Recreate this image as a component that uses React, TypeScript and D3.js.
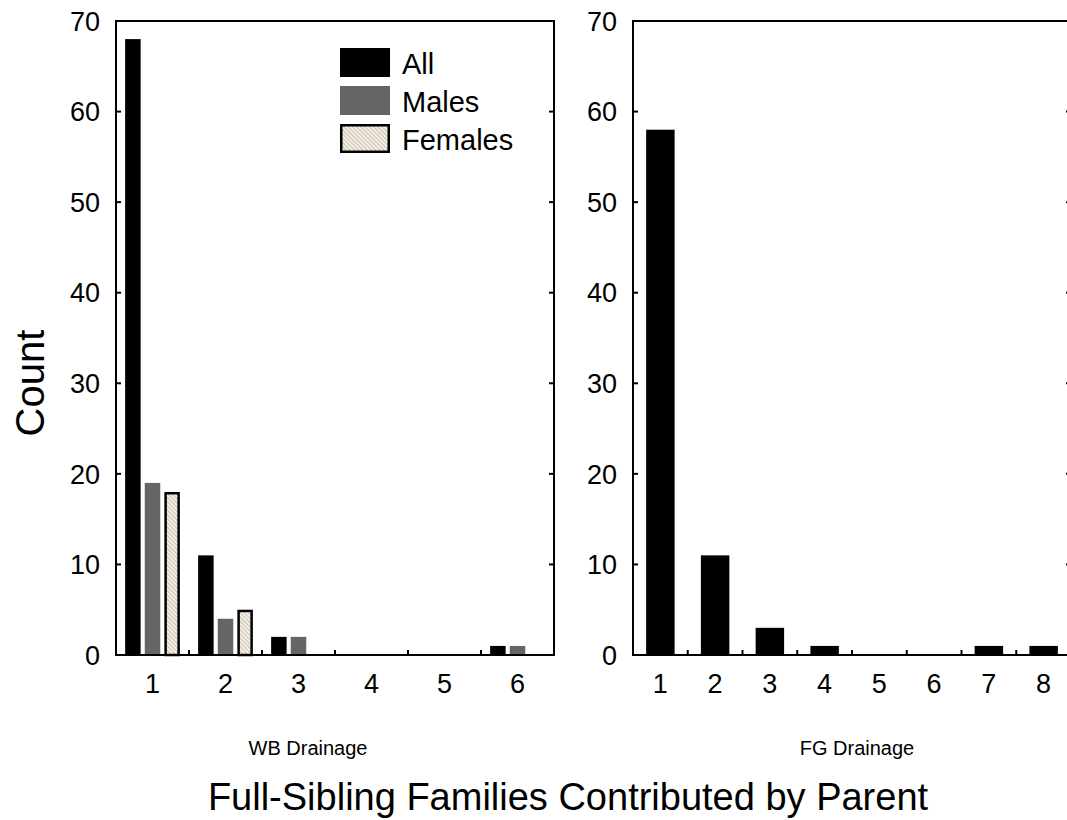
import React from 'react';
import * as d3 from 'd3';

// Counts of full-sibling families contributed per parent
const wbCategories = ['1', '2', '3', '4', '5', '6'];
const wbAll = [68, 11, 2, 0, 0, 1];
const wbMales = [19, 4, 2, 0, 0, 1];
const wbFemales = [18, 5, 0, 0, 0, 0];

const fgCategories = ['1', '2', '3', '4', '5', '6', '7', '8'];
const fgAll = [58, 11, 3, 1, 0, 0, 1, 1];

const seriesNames = ['All', 'Males', 'Females'];
const yTicks = [0, 10, 20, 30, 40, 50, 60, 70];

const WIDTH = 1067;
const HEIGHT = 820;
const TOP = 21;
const BOTTOM = 655;
const FONT = "'Liberation Sans', Arial, sans-serif";

const fills: Record<string, string> = {
  All: '#000000',
  Males: '#656565',
  Females: 'url(#hatch)',
};

const y = d3.scaleLinear().domain([0, 70]).range([BOTTOM, TOP]);

type PanelProps = {
  x0: number;
  x1: number;
  categories: string[];
  children: (band: d3.ScaleBand<string>) => React.ReactNode;
};

function Panel({ x0, x1, categories, children }: PanelProps) {
  const band = d3.scaleBand<string>().domain(categories).range([x0, x1]).padding(0);
  const step = band.step();
  const boundaries = categories.slice(1).map((c) => band(c) as number);
  return (
    <g>
      {children(band)}
      {/* frame */}
      <rect x={x0} y={TOP} width={x1 - x0} height={BOTTOM - TOP} fill="none" stroke="#000" strokeWidth={2} />
      {/* y ticks, inward on both sides */}
      {yTicks.slice(1, -1).map((t) => (
        <g key={t}>
          <line x1={x0} x2={x0 + 5} y1={y(t)} y2={y(t)} stroke="#000" strokeWidth={2} />
          <line x1={x1 - 5} x2={x1} y1={y(t)} y2={y(t)} stroke="#000" strokeWidth={2} />
        </g>
      ))}
      {yTicks.map((t) => (
        <text key={'l' + t} x={x0 - 16} y={y(t)} dy="0.36em" textAnchor="end" fontSize={27} fontFamily={FONT}>
          {t}
        </text>
      ))}
      {/* x ticks at category boundaries */}
      {boundaries.map((bx, i) => (
        <line key={i} x1={bx} x2={bx} y1={BOTTOM} y2={BOTTOM - 5} stroke="#000" strokeWidth={2} />
      ))}
      {categories.map((c) => (
        <text key={c} x={(band(c) as number) + step / 2} y={693} textAnchor="middle" fontSize={27} fontFamily={FONT}>
          {c}
        </text>
      ))}
    </g>
  );
}

export default function App() {
  const leftX0 = 116;
  const leftX1 = 554;
  const rightX0 = 633;
  const rightX1 = 1071;

  const wbSeries: Record<string, number[]> = { All: wbAll, Males: wbMales, Females: wbFemales };

  return (
    <svg
      width={WIDTH}
      height={HEIGHT}
      viewBox={`0 0 ${WIDTH} ${HEIGHT}`}
      style={{ position: 'absolute', left: 0, top: 0, background: '#fff' }}
    >
      <defs>
        <pattern id="hatch" width={3} height={3} patternUnits="userSpaceOnUse" patternTransform="rotate(-45)">
          <rect width={3} height={3} fill="#f4efe2" />
          <line x1={0} y1={0} x2={0} y2={3} stroke="#a9a293" strokeWidth={1.2} />
        </pattern>
      </defs>
      <rect width={WIDTH} height={HEIGHT} fill="#fff" />

      <Panel x0={leftX0} x1={leftX1} categories={wbCategories}>
        {(band) => {
          const sub = d3
            .scaleBand<string>()
            .domain(seriesNames)
            .range([0, band.step()])
            .paddingInner(0.21)
            .paddingOuter(0.465);
          return wbCategories.map((c, i) =>
            seriesNames.map((s) => {
              const v = wbSeries[s][i];
              if (v <= 0) return null;
              const bx = (band(c) as number) + (sub(s) as number);
              const bw = sub.bandwidth();
              if (s === 'Females') {
                return (
                  <rect
                    key={c + s}
                    x={bx + 1.25}
                    y={y(v) + 1.25}
                    width={bw - 2.5}
                    height={y(0) - y(v) - 1.25}
                    fill={fills[s]}
                    stroke="#000"
                    strokeWidth={2.5}
                  />
                );
              }
              return <rect key={c + s} x={bx} y={y(v)} width={bw} height={y(0) - y(v)} fill={fills[s]} />;
            })
          );
        }}
      </Panel>

      <Panel x0={rightX0} x1={rightX1} categories={fgCategories}>
        {(band) => {
          const inner = d3.scaleBand<string>().domain(['All']).range([0, band.step()]).paddingInner(0.48).paddingOuter(0.24);
          return fgCategories.map((c, i) => {
            const v = fgAll[i];
            if (v <= 0) return null;
            return (
              <rect
                key={c}
                x={(band(c) as number) + (inner('All') as number)}
                y={y(v)}
                width={inner.bandwidth()}
                height={y(0) - y(v)}
                fill="#000"
              />
            );
          });
        }}
      </Panel>

      {/* legend */}
      {seriesNames.map((s, i) => {
        const ly = 48 + i * 38;
        return (
          <g key={s}>
            {s === 'Females' ? (
              <rect x={341.25} y={ly + 1.25} width={47.5} height={26.5} fill={fills[s]} stroke="#000" strokeWidth={2.5} />
            ) : (
              <rect x={340} y={ly} width={50} height={29} fill={fills[s]} />
            )}
            <text x={402} y={ly + 26} fontSize={29} fontFamily={FONT}>
              {s}
            </text>
          </g>
        );
      })}

      {/* panel captions */}
      <text x={308} y={755} textAnchor="middle" fontSize={20} fontFamily={FONT}>
        WB Drainage
      </text>
      <text x={857} y={755} textAnchor="middle" fontSize={20} fontFamily={FONT}>
        FG Drainage
      </text>

      {/* axis titles */}
      <text x={568} y={810} textAnchor="middle" fontSize={38} fontFamily={FONT}>
        Full-Sibling Families Contributed by Parent
      </text>
      <text transform="translate(44,383) rotate(-90)" textAnchor="middle" fontSize={40} fontFamily={FONT}>
        Count
      </text>
    </svg>
  );
}
